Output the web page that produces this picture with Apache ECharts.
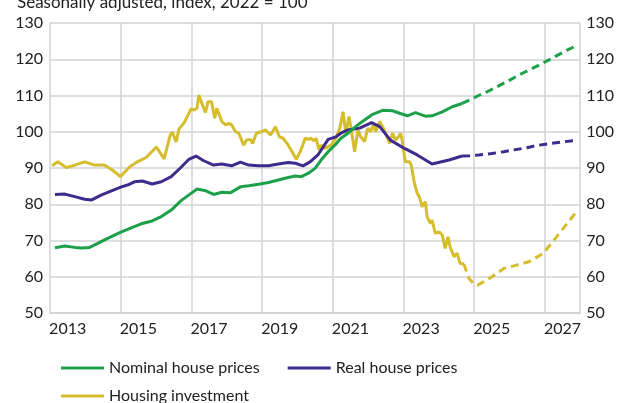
<!DOCTYPE html>
<html>
<head>
<meta charset="utf-8">
<script src="https://cdn.jsdelivr.net/npm/echarts@6/dist/echarts.min.js"></script>
<style>
  html, body { margin: 0; padding: 0; background: #fff; }
  #chart { width: 617px; height: 403px; }
</style>
</head>
<body>
<div id="chart"></div>
<script>
// year labels on the bottom axis (one band per year)
var years = ['2013','2014','2015','2016','2017','2018','2019','2020','2021','2022','2023','2024','2025','2026','2027'];

// [decimal year, index value]
var nominalActual = [
  [2013.14,68],[2013.42,68.5],[2013.70,68.1],[2013.90,67.9],[2014.12,68.1],[2014.35,69.2],[2014.63,70.6],
  [2015.02,72.4],[2015.30,73.5],[2015.58,74.6],[2015.89,75.4],[2016.15,76.6],[2016.43,78.4],[2016.71,81],
  [2016.99,83],[2017.16,84.2],[2017.41,83.7],[2017.63,82.7],[2017.86,83.3],[2018.11,83.2],[2018.39,84.8],
  [2018.62,85.1],[2018.90,85.5],[2019.18,86],[2019.46,86.7],[2019.74,87.4],[2019.94,87.8],[2020.11,87.6],
  [2020.30,88.5],[2020.50,89.9],[2020.67,92.2],[2020.87,94.5],[2021.06,96.3],[2021.23,98.2],[2021.43,99.6],
  [2021.76,102.3],[2022.13,104.8],[2022.41,105.9],[2022.69,105.8],[2022.89,105.1],[2023.11,104.4],
  [2023.34,105.3],[2023.62,104.3],[2023.81,104.4],[2024.10,105.5],[2024.38,106.9],[2024.66,107.8]
];
var nominalForecast = [
  [2024.88,108.8],[2025.13,110],[2025.38,111.1],[2025.63,112.3],[2025.88,113.6],[2026.13,114.9],
  [2026.38,116.2],[2026.63,117.4],[2026.88,118.6],[2027.13,119.9],[2027.38,121.2],[2027.63,122.5],[2027.88,123.7]
];

var realActual = [
  [2013.14,82.7],[2013.42,82.8],[2013.70,82.1],[2013.98,81.4],[2014.18,81.2],[2014.46,82.6],[2014.74,83.7],
  [2015.02,84.8],[2015.19,85.3],[2015.39,86.2],[2015.61,86.4],[2015.89,85.6],[2016.15,86.2],[2016.43,87.6],
  [2016.71,90.2],[2016.93,92.4],[2017.13,93.3],[2017.35,92],[2017.63,90.8],[2017.86,91.1],[2018.14,90.6],
  [2018.39,91.6],[2018.62,90.8],[2018.90,90.6],[2019.18,90.6],[2019.46,91.1],[2019.74,91.5],[2019.94,91.3],
  [2020.16,90.6],[2020.36,91.7],[2020.58,93.6],[2020.87,97.9],[2021.09,98.6],[2021.23,99.6],[2021.43,100.5],
  [2021.76,101],[2022.10,102.5],[2022.33,101.4],[2022.63,97.7],[2023.03,95.4],[2023.39,93.6],[2023.81,91.1],
  [2024.29,92.2],[2024.66,93.3]
];
var realForecast = [
  [2024.88,93.4],[2025.13,93.6],[2025.50,94],[2025.84,94.5],[2026.13,95],[2026.50,95.6],[2026.76,96.2],
  [2027.13,96.7],[2027.50,97.2],[2027.88,97.6]
];

var investActual = [
  [2013.06,90.6],[2013.22,91.7],[2013.47,90.1],[2013.70,90.8],[2013.98,91.7],[2014.26,90.8],[2014.54,90.8],
  [2014.77,89.4],[2014.99,87.6],[2015.25,90.3],[2015.47,91.7],[2015.72,92.9],[2016.01,95.8],[2016.23,92.5],
  [2016.40,99.1],[2016.46,99.9],[2016.57,97.2],[2016.65,100.8],[2016.79,102.4],[2016.99,106.3],[2017.07,106],
  [2017.16,106.5],[2017.21,110.1],[2017.35,106.5],[2017.40,105.3],[2017.47,108.3],[2017.57,108.3],
  [2017.66,103.7],[2017.72,106.5],[2017.86,102.8],[2017.97,101.9],[2018.06,102.3],[2018.14,101.9],
  [2018.25,100],[2018.34,99.6],[2018.48,96.3],[2018.56,97.7],[2018.67,97.9],[2018.73,96.8],[2018.84,99.6],
  [2018.98,100],[2019.10,100.5],[2019.24,99.1],[2019.38,101.4],[2019.49,98.6],[2019.60,98.2],[2019.74,96.3],
  [2019.85,94.5],[2019.97,92.4],[2020.08,94.5],[2020.13,95],[2020.22,98.2],[2020.30,97.9],[2020.39,98.2],
  [2020.47,97.5],[2020.53,98.2],[2020.61,95],[2020.67,96.3],[2020.78,95.4],[2020.87,95.9],[2020.95,96.3],
  [2021.09,98.2],[2021.20,101],[2021.29,105.5],[2021.37,99.6],[2021.46,104.2],[2021.51,101.4],[2021.62,94.5],
  [2021.71,100.5],[2021.79,98.6],[2021.90,97.3],[2021.99,101],[2022.07,100],[2022.16,102.3],[2022.21,100],
  [2022.33,102.8],[2022.41,101.4],[2022.49,99.6],[2022.61,96.8],[2022.69,99.6],[2022.78,97.7],[2022.86,98.6],
  [2022.92,99.6],[2022.97,97.3],[2023.03,93.1],[2023.06,91.7],[2023.17,91.7],[2023.22,90.8],[2023.31,85.8],
  [2023.39,83],[2023.45,82.1],[2023.53,79.3],[2023.62,80.7],[2023.67,76.6],[2023.76,74.7],[2023.81,75.6],
  [2023.90,72],[2024.01,72.4],[2024.10,71.5],[2024.18,67.8],[2024.26,71],[2024.32,68.3],[2024.43,65.5],
  [2024.52,66.5],[2024.60,63.7],[2024.71,63.5]
];
var investForecast = [
  [2024.85,59.6],[2024.99,58],[2025.10,57.7],[2025.36,59.1],[2025.50,60],[2025.84,62.3],[2026.20,63.2],
  [2026.57,64.2],[2026.96,66.5],[2027.33,71],[2027.89,77.9]
];

var GREEN = '#1e9f4a', PURPLE = '#3f2a8d', YELLOW = '#d6bd2d';
var FONT = 'Lato';

function lineSeries(name, color, data, dashed) {
  return {
    name: name,
    type: 'line',
    xAxisIndex: 1,
    yAxisIndex: 0,
    data: data,
    showSymbol: false,
    symbol: 'none',
    color: color,
    lineStyle: { color: color, width: 3, type: dashed ? [8, 5] : 'solid' },
    z: 3
  };
}

function withJoin(actual, forecast) {
  return [actual[actual.length - 1]].concat(forecast);
}

var chart = echarts.init(document.getElementById('chart'));
chart.setOption({
  animation: false,
  textStyle: { fontFamily: FONT },
  title: {
    text: 'Seasonally adjusted, index, 2022 = 100',
    left: 12,
    top: -11,
    textStyle: { fontFamily: FONT, fontSize: 17, fontWeight: 'normal', color: '#222' }
  },
  grid: { left: 50, right: 33, top: 23, bottom: 90 },
  legend: [
    {
      data: ['Nominal house prices', 'Real house prices'],
      left: 56, top: 355,
      icon: 'rect', itemWidth: 43, itemHeight: 3, itemGap: 28,
      textStyle: { fontFamily: FONT, fontSize: 16, color: '#222' }
    },
    {
      data: ['Housing investment'],
      left: 56, top: 383,
      icon: 'rect', itemWidth: 43, itemHeight: 3,
      textStyle: { fontFamily: FONT, fontSize: 16, color: '#222' }
    }
  ],
  xAxis: [
    {
      type: 'category',
      data: years,
      boundaryGap: true,
      axisTick: { show: false },
      axisLine: { lineStyle: { color: '#cfcfcf', width: 1.5 } },
      splitLine: { show: true, lineStyle: { color: '#d3d3d3', width: 1.5 } },
      axisLabel: { interval: 1, fontFamily: FONT, fontSize: 16, color: '#222', margin: 8 }
    },
    { type: 'value', min: 2013, max: 2028, show: false }
  ],
  yAxis: [
    {
      type: 'value', min: 50, max: 130, interval: 10, position: 'left',
      axisLine: { show: false }, axisTick: { show: false },
      splitLine: { lineStyle: { color: '#d3d3d3', width: 1.5 } },
      axisLabel: { fontFamily: FONT, fontSize: 16, color: '#222', margin: 7 }
    },
    {
      type: 'value', min: 50, max: 130, interval: 10, position: 'right',
      axisLine: { show: false }, axisTick: { show: false },
      splitLine: { show: false },
      axisLabel: { fontFamily: FONT, fontSize: 16, color: '#222', margin: 6 }
    }
  ],
  series: [
    lineSeries('Housing investment', YELLOW, investActual, false),
    lineSeries('Housing investment', YELLOW, withJoin(investActual, investForecast), true),
    lineSeries('Real house prices', PURPLE, realActual, false),
    lineSeries('Real house prices', PURPLE, withJoin(realActual, realForecast), true),
    lineSeries('Nominal house prices', GREEN, nominalActual, false),
    lineSeries('Nominal house prices', GREEN, withJoin(nominalActual, nominalForecast), true)
  ]
});
</script>
</body>
</html>
